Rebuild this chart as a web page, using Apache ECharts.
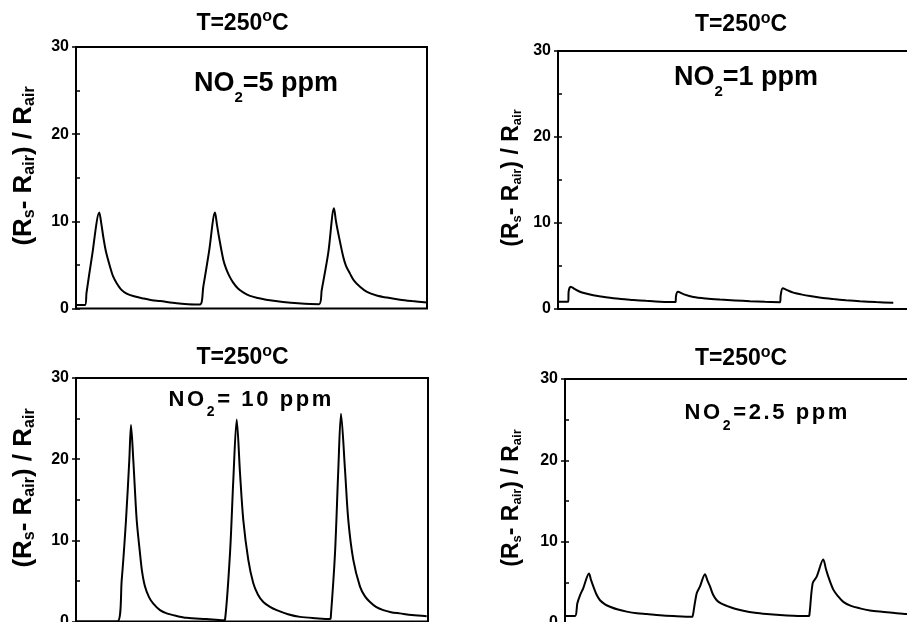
<!DOCTYPE html>
<html>
<head>
<meta charset="utf-8">
<script src="https://cdn.jsdelivr.net/npm/echarts@6/dist/echarts.min.js"></script>
<style>
  html, body { margin: 0; padding: 0; background: #fff; }
  #chart { width: 907px; height: 622px; }
</style>
</head>
<body>
<div id="chart"></div>
<script>
const FONT = '"Liberation Sans", Arial, Helvetica, sans-serif';

// Response axis (same for every panel)
const yMin = 0, yMax = 30, yMajor = 10, yMinor = 5;

// NO2 = 5 ppm : time (a.u.) and response
const time5 = [0,9,10.5,16,23.3,25.5,27.3,30,34,37,40.7,45,50.7,58,67.3,76,84,100.7,112,124,
  127.3,133,139,141,143,147.3,150,153,157,162,168,174,182,190,207,222,243,
  245.7,252.3,258,260,262.3,267.3,270,274,278,284,291,300.7,311,324,336,351];
const resp5 = [0.4,0.4,1.8,6.0,11.0,9.6,8.2,6.5,4.8,3.7,2.9,2.2,1.7,1.4,1.15,0.95,0.85,0.6,0.5,0.45,
  2.5,6.5,11.0,9.6,8.2,5.6,4.6,3.8,3.0,2.3,1.8,1.45,1.2,1.0,0.75,0.6,0.5,
  2.1,6.4,11.5,10.0,8.6,5.9,4.9,4.0,3.2,2.5,1.9,1.5,1.25,1.0,0.85,0.7];

// NO2 = 1 ppm
const time1 = [1,10.3,10.6,12.7,17,22,28,35.3,43,52,63,75.3,88,102,117.5,
  118,119.7,126,135.3,148,162,177,192,207,222,
  222.7,224.7,229,235.3,243,252,263,275.3,288,302,318,335.3];
const resp1 = [0.85,0.85,2.0,2.6,2.3,2.0,1.8,1.6,1.45,1.3,1.15,1.05,0.95,0.85,0.8,
  1.5,2.0,1.7,1.4,1.22,1.1,1.0,0.9,0.83,0.78,
  1.6,2.4,2.2,1.9,1.7,1.5,1.3,1.15,1.02,0.9,0.8,0.73];

// NO2 = 10 ppm
const time10 = [0,41.3,45.7,50,53.3,55,57.3,60.7,64,66,69,73,77.3,84,90.7,100,110.7,130.7,147.3,
  149,154,157.3,160.7,164,167.3,172.3,177.3,182,187.3,194,200.7,212,224,240,254,
  254.7,259,262.3,265,269,272.3,277.3,284,289,294,300,307.3,315,324,336,350.7];
const resp10 = [0,0,5.1,12.5,19.9,24.2,19.9,12.5,8.4,6.2,4.3,3.0,2.2,1.4,1.0,0.7,0.45,0.3,0.15,
  0.2,8.4,17.4,24.9,18.3,12.5,7.6,4.7,3.3,2.4,1.8,1.4,0.9,0.57,0.4,0.3,
  0.4,8.4,18.7,25.6,18.7,12.5,7.6,4.3,3.1,2.4,1.8,1.4,1.15,1.0,0.8,0.65];

// NO2 = 2.5 ppm
const time25 = [1,10,12.3,15,18.3,24,26,28.3,31.5,35,40,45,53,61.7,72,81.7,95,108.3,127.7,
  128.3,131.7,135,140,142.5,145,148,151.7,156,161.7,170,178.3,190,201.7,215,228.3,243.3,
  244.3,247.7,251.7,258.3,261,263.3,268.3,273,278.3,286,295,305,315,328,341.7,351];
const resp25 = [0.86,0.86,2.4,3.4,4.3,6.1,5.3,4.5,3.5,2.8,2.3,2.0,1.65,1.4,1.2,1.1,0.95,0.86,0.78,
  0.8,3.65,4.5,6.0,5.2,4.5,3.5,2.8,2.4,2.1,1.75,1.5,1.25,1.1,0.98,0.9,0.86,
  0.9,4.9,5.7,7.8,6.6,5.7,4.1,3.3,2.6,2.1,1.8,1.55,1.4,1.25,1.1,1.05];

const panelTitle = 'T=250';
const gasLabels = ['=5 ppm', '=1 ppm', '= 10 ppm', '=2.5 ppm'];

// panel frames: TL, TR, BL, BR
const grids = [
  { left: 76,  top: 47,  width: 351, height: 261.5 },
  { left: 558, top: 51,  width: 351, height: 258 },
  { left: 76,  top: 378, width: 352, height: 243.5 },
  { left: 565, top: 379, width: 351, height: 244 }
];
const xSpan = [351, 351, 352, 351];
const panelData = [[time5, resp5], [time1, resp1], [time10, resp10], [time25, resp25]];

function zip(xs, ys) { return xs.map((x, i) => [x, ys[i]]); }

// rich text with sub/superscripts and optional letter tracking
function buildRich(parts, F, S, drop, track, supPad) {
  const h = (track || 0) / 2;
  const base = { fontWeight: 'bold', fontFamily: FONT, fill: '#000', color: '#000' };
  const rich = {
    n: Object.assign({}, base, { fontSize: F, lineHeight: F, verticalAlign: 'top', padding: [0, h, 0, h] }),
    sub: Object.assign({}, base, { fontSize: S, lineHeight: S, verticalAlign: 'top',
      padding: [Math.max(0, 0.85 * F + drop - 0.85 * S), h, 0, h] }),
    sup: Object.assign({}, base, { fontSize: S, lineHeight: 8, verticalAlign: 'top',
      padding: [supPad || 0, h, 0, h] })
  };
  let text = '';
  parts.forEach(([txt, kind]) => {
    const chunks = track ? txt.split('') : [txt];
    chunks.forEach(c => { text += '{' + kind + '|' + c + '}'; });
  });
  return { text, rich };
}

function textEl(x, y, parts, F, S, drop, track, rotation, supPad) {
  const r = buildRich(parts, F, S, drop, track, supPad);
  return {
    type: 'text', x, y, rotation: rotation || 0, silent: true, z: 20,
    style: {
      text: r.text, rich: r.rich,
      fontSize: F, fontWeight: 'bold', fontFamily: FONT,
      fill: '#000',
      align: 'center', textAlign: 'center',
      verticalAlign: 'top', textVerticalAlign: 'top'
    }
  };
}

const yNameParts = [['(R', 'n'], ['s', 'sub'], ['- R', 'n'], ['air', 'sub'], [') / R', 'n'], ['air', 'sub']];
const titleParts = [[panelTitle, 'n'], ['o', 'sup'], ['C', 'n']];

const graphics = [
  // panel titles
  textEl(242.5, 11.7, titleParts, 23, 16, 0, 0, 0, -3),
  textEl(741, 13.2, titleParts, 23, 16, 0, 0, 0, -3),
  textEl(242.5, 346.2, titleParts, 23, 16, 0, 0, 0, -3),
  textEl(741, 347.4, titleParts, 23, 16, 0, 0, 0, -3),
  // gas concentration labels
  textEl(266, 70.1, [['NO', 'n'], ['2', 'sub'], [gasLabels[0], 'n']], 27, 15, 10, 0),
  textEl(746, 64.3, [['NO', 'n'], ['2', 'sub'], [gasLabels[1], 'n']], 27, 15, 10, 0),
  textEl(250, 389, [['NO', 'n'], ['2', 'sub'], [gasLabels[2], 'n']], 22, 14, 9, 2.6),
  textEl(766, 401.5, [['NO', 'n'], ['2', 'sub'], [gasLabels[3], 'n']], 22, 14, 11, 2.6),
  // y axis names (rotated, reading upward)
  textEl(10.7, 166, yNameParts, 26, 16, 2, 0, Math.PI / 2),
  textEl(500.2, 178, yNameParts, 23, 13, 2, 0, Math.PI / 2),
  textEl(10.7, 488, yNameParts, 26, 16, 2, 0, Math.PI / 2),
  textEl(500.2, 498, yNameParts, 23, 13, 2, 0, Math.PI / 2)
];

const option = {
  animation: false,
  backgroundColor: '#fff',
  grid: grids.map(g => Object.assign({
    show: true, borderColor: '#000', borderWidth: 2, backgroundColor: 'transparent',
    containLabel: false, outerBoundsMode: 'none'
  }, g)),
  xAxis: grids.map((g, i) => ({
    gridIndex: i, type: 'value', min: 0, max: xSpan[i], show: false,
    splitLine: { show: false }
  })),
  yAxis: [
    // labelled major ticks (outward)
    ...grids.map((g, i) => ({
      gridIndex: i, type: 'value', position: 'left', offset: 0,
      min: yMin, max: yMax, interval: yMajor,
      axisLine: { show: false },
      axisTick: { show: true, inside: false, length: 4, lineStyle: { color: '#000', width: 1.5 } },
      axisLabel: { show: true, margin: 7, color: '#000', fontSize: 16, fontWeight: 'bold', fontFamily: FONT },
      splitLine: { show: false }
    })),
    // unlabelled ticks every 5 (inward)
    ...grids.map((g, i) => ({
      gridIndex: i, type: 'value', position: 'left', offset: 0,
      min: yMin, max: yMax, interval: yMinor,
      axisLine: { show: false },
      axisTick: { show: true, inside: true, length: 4, lineStyle: { color: '#000', width: 1.5 } },
      axisLabel: { show: false },
      splitLine: { show: false }
    }))
  ],
  series: panelData.map((d, i) => ({
    type: 'line', xAxisIndex: i, yAxisIndex: i,
    data: zip(d[0], d[1]),
    showSymbol: false, symbol: 'none', silent: true,
    smooth: 0.3,
    lineStyle: { color: '#000', width: 2 },
    clip: true
  })),
  graphic: graphics
};

const chart = echarts.init(document.getElementById('chart'));
chart.setOption(option);
</script>
</body>
</html>
